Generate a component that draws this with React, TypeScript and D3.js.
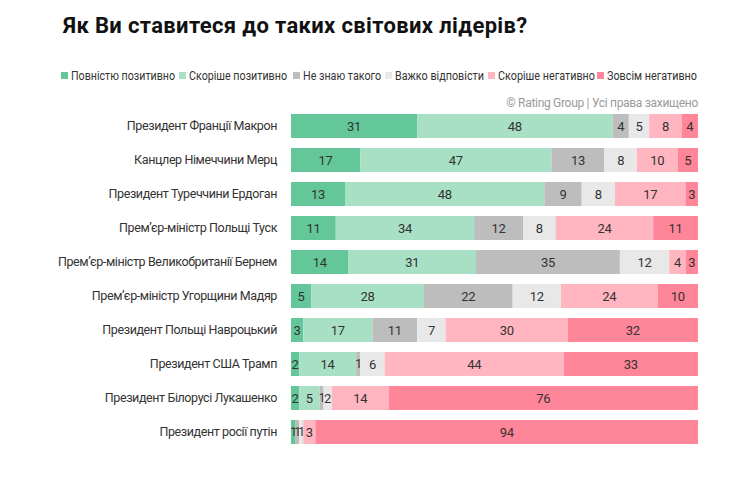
import React from "react";
import * as d3 from "d3";

const title = "Як Ви ставитеся до таких світових лідерів?";
const copyright = "© Rating Group | Усі права захищено";

const seriesNames = [
  "Повністю позитивно",
  "Скоріше позитивно",
  "Не знаю такого",
  "Важко відповісти",
  "Скоріше негативно",
  "Зовсім негативно",
];
const seriesColors = ["#63C79A", "#A7E0C5", "#BDBDBD", "#E8E8E8", "#FFB6C0", "#FF8598"];

const leaders = [
  "Президент Франції Макрон",
  "Канцлер Німеччини Мерц",
  "Президент Туреччини Ердоган",
  "Прем’єр-міністр Польщі Туск",
  "Прем’єр-міністр Великобританії Бернем",
  "Прем’єр-міністр Угорщини Мадяр",
  "Президент Польщі Навроцький",
  "Президент США Трамп",
  "Президент Білорусі Лукашенко",
  "Президент росії путін",
];

const fullyPositive = [31, 17, 13, 11, 14, 5, 3, 2, 2, 1];
const ratherPositive = [48, 47, 48, 34, 31, 28, 17, 14, 5, 0];
const dontKnow = [4, 13, 9, 12, 35, 22, 11, 1, 1, 1];
const hardToSay = [5, 8, 8, 8, 12, 12, 7, 6, 2, 1];
const ratherNegative = [8, 10, 17, 24, 4, 24, 30, 44, 14, 3];
const fullyNegative = [4, 5, 3, 11, 3, 10, 32, 33, 76, 94];

const seriesValues = [fullyPositive, ratherPositive, dontKnow, hardToSay, ratherNegative, fullyNegative];

const legendX = [61, 179, 293, 385, 488, 597];
const legendTextW = [104, 98, 78, 89, 97, 90];

export default function App() {
  const W = 755;
  const H = 500;
  const y = d3
    .scaleBand<string>()
    .domain(leaders)
    .range([109, 449])
    .paddingInner(10 / 34)
    .paddingOuter(5 / 34);

  const font = "Roboto, 'Noto Sans', sans-serif";

  return (
    <svg width={W} height={H} style={{ display: "block", position: "absolute", left: 0, top: 0, background: "#fff" }}>
      <text x={63} y={33} fontFamily={font} fontWeight={700} fontSize={22} letterSpacing={0.35} fill="#111">
        {title}
      </text>
      {seriesNames.map((name, i) => (
        <g key={name}>
          <rect x={legendX[i]} y={72} width={7} height={7} fill={seriesColors[i]} />
          <text
            x={legendX[i] + 10}
            y={79.5}
            fontFamily={font}
            fontSize={12}
            textLength={legendTextW[i]}
            lengthAdjust="spacingAndGlyphs"
            fill="#333"
          >
            {name}
          </text>
        </g>
      ))}
      <text x={698} y={107} textAnchor="end" fontFamily={font} fontSize={12} letterSpacing={-0.3} fill="#9a9a9a">
        {copyright}
      </text>
      {leaders.map((leader, r) => {
        const vals = seriesValues.map((s) => s[r]);
        const total = d3.sum(vals);
        const x = d3.scaleLinear().domain([0, total]).range([291, 698]);
        const y0 = y(leader) as number;
        const bh = y.bandwidth();
        let acc = 0;
        return (
          <g key={leader}>
            <text
              x={277}
              y={y0 + bh / 2}
              dy="0.35em"
              textAnchor="end"
              fontFamily={font}
              fontSize={12.5}
              letterSpacing={-0.4}
              fill="#333"
            >
              {leader}
            </text>
            {vals.map((v, i) => {
              const start = acc;
              acc += v;
              if (v <= 0) return null;
              const x0 = x(start);
              const x1 = x(start + v);
              const tiny = x1 - x0 < 8;
              return (
                <g key={i}>
                  <rect x={x0} y={y0} width={x1 - x0} height={bh} fill={seriesColors[i]} />
                  <text
                    x={(x0 + x1) / 2}
                    y={y0 + bh / 2}
                    dy="0.36em"
                    textAnchor="middle"
                    fontFamily={font}
                    fontSize={tiny ? 12 : 13}
                    letterSpacing={tiny ? -1 : -0.3}
                    fill="#333"
                  >
                    {v}
                  </text>
                </g>
              );
            })}
          </g>
        );
      })}
    </svg>
  );
}
